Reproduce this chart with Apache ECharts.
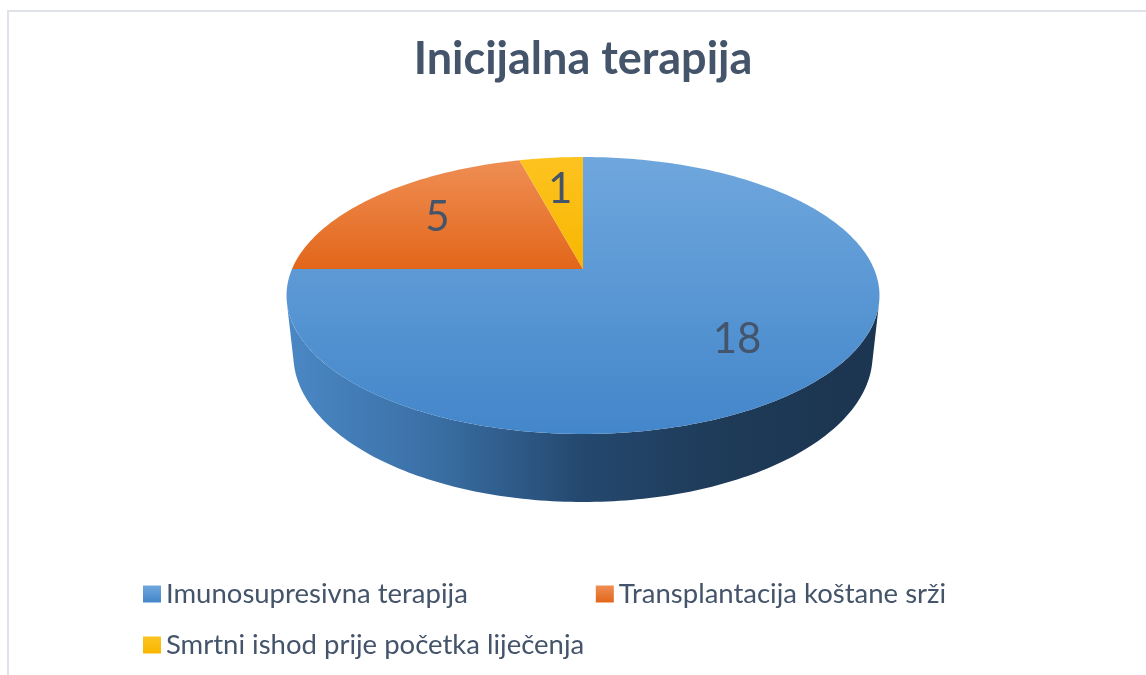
<!DOCTYPE html>
<html>
<head>
<meta charset="utf-8">
<title>Inicijalna terapija</title>
<script src="https://cdn.jsdelivr.net/npm/echarts@6/dist/echarts.min.js"></script>
<style>
  html, body { margin: 0; padding: 0; background: #fff; }
  #chart { width: 1146px; height: 675px; }
</style>
</head>
<body>
<div id="chart"></div>
<script>
const categories = ['Imunosupresivna terapija', 'Transplantacija koštane srži', 'Smrtni ishod prije početka liječenja']
const values = [18, 5, 1]
// light (back) and dark (front) tone of each slice's top face
const topColors = [['#6fa7dd', '#4386ca'], ['#ef8e54', '#e2661a'], ['#fdc320', '#f7b600']]
// wall shading, left to right
const sideColors = [
  ['#4a88c5', '#3a6fa5', '#24486e', '#1e3a57', '#1c3550'],
  ['#e97a35', '#c95f1c', '#9a4712', '#7d3a0f', '#6e330d'],
  ['#f5b800', '#d9a200', '#a87d00', '#8a6700', '#7a5b00']
]

// 3d projection of the pie (camera tilted, a bit of perspective)
const CX = 583
const CY = 269
const F = 1352
const D = 4.646
const SIN = 0.4585
const COS = 0.8887
const H = 0.2334

function project (phi, r, h) {
  const a = phi * Math.PI / 180
  const X = r * Math.sin(a)
  const Z = -r * Math.cos(a)
  const Y = -h * H
  const yc = Z * SIN - Y * COS
  const zc = D - Z * COS - Y * SIN
  return [CX + F * X / zc, CY + F * yc / zc]
}

function arc (a0, a1, h) {
  const n = Math.max(2, Math.ceil(Math.abs(a1 - a0)))
  const pts = []
  for (let i = 0; i <= n; i++) {
    pts.push(project(a0 + (a1 - a0) * i / n, 1, h))
  }
  return pts
}

const total = values.reduce((s, v) => s + v, 0)
const startAngles = values.map((v, i) => values.slice(0, i).reduce((s, x) => s + x, 0) / total * 360)
// walls face the camera only in this angular range
const wallMin = Math.acos(-1 / (D * COS)) * 180 / Math.PI
const wallMax = 360 - wallMin

function renderItem (params, api) {
  const i = params.dataIndex
  const v = api.value(0)
  const a0 = startAngles[i]
  const a1 = a0 + v / total * 360
  const children = []

  const lo = Math.max(a0, wallMin)
  const hi = Math.min(a1, wallMax)
  if (hi > lo) {
    const pts = arc(lo, hi, 0).concat(arc(hi, lo, 1))
    children.push({
      type: 'polygon',
      z2: 1,
      shape: { points: pts },
      style: {
        fill: {
          type: 'linear', x: CX - 296, y: 0, x2: CX + 296, y2: 0, global: true,
          colorStops: sideColors[i].map((c, k) => ({ offset: k / (sideColors[i].length - 1), color: c }))
        }
      }
    })
  }

  children.push({
    type: 'polygon',
    z2: 10,
    shape: { points: [project(0, 0, 0)].concat(arc(a0, a1, 0)) },
    style: {
      fill: {
        type: 'linear', x: 0, y: 0, x2: 0, y2: 1,
        colorStops: [{ offset: 0, color: topColors[i][0] }, { offset: 1, color: topColors[i][1] }]
      }
    }
  })

  const p = project((a0 + a1) / 2, 0.68, 0)
  children.push({
    type: 'text',
    z2: 20,
    style: {
      x: p[0],
      y: p[1],
      text: String(v),
      fill: '#44546a',
      fontFamily: 'Lato',
      fontSize: 42,
      align: 'center',
      verticalAlign: 'middle'
    }
  })

  return { type: 'group', children }
}

const chart = echarts.init(document.getElementById('chart'))
const legendText = { fontFamily: 'Lato', fontSize: 27.5, color: '#44546a', lineHeight: 30 }

chart.setOption({
  animation: false,
  textStyle: { fontFamily: 'Lato' },
  title: {
    text: 'Inicijalna terapija',
    left: 583,
    top: 37,
    padding: 0,
    textAlign: 'center',
    textStyle: { fontFamily: 'Lato', fontWeight: 'bold', fontSize: 45, color: '#44546a' }
  },
  graphic: [{
    type: 'rect',
    shape: { x: 8, y: 11, width: 1160, height: 700 },
    style: { fill: 'none', stroke: '#dfe2e8', lineWidth: 2 },
    silent: true
  }],
  legend: [{
    data: categories.slice(0, 2),
    left: 143,
    top: 579,
    padding: 0,
    itemGap: 128,
    itemWidth: 18,
    itemHeight: 17,
    icon: 'rect',
    selectedMode: false,
    textStyle: legendText
  }, {
    data: categories.slice(2),
    left: 143,
    top: 630,
    padding: 0,
    itemWidth: 18,
    itemHeight: 17,
    icon: 'rect',
    selectedMode: false,
    textStyle: legendText
  }],
  series: [{
    // only feeds the legend with names and colours
    type: 'pie',
    radius: [0, 0],
    center: [-50, -50],
    silent: true,
    label: { show: false },
    labelLine: { show: false },
    data: categories.map((name, i) => ({
      name,
      value: values[i],
      itemStyle: {
        color: {
          type: 'linear', x: 0, y: 0, x2: 0, y2: 1,
          colorStops: [{ offset: 0, color: topColors[i][0] }, { offset: 1, color: topColors[i][1] }]
        }
      }
    }))
  }, {
    type: 'custom',
    coordinateSystem: 'none',
    renderItem,
    data: values.map(v => [v])
  }]
})
</script>
</body>
</html>
